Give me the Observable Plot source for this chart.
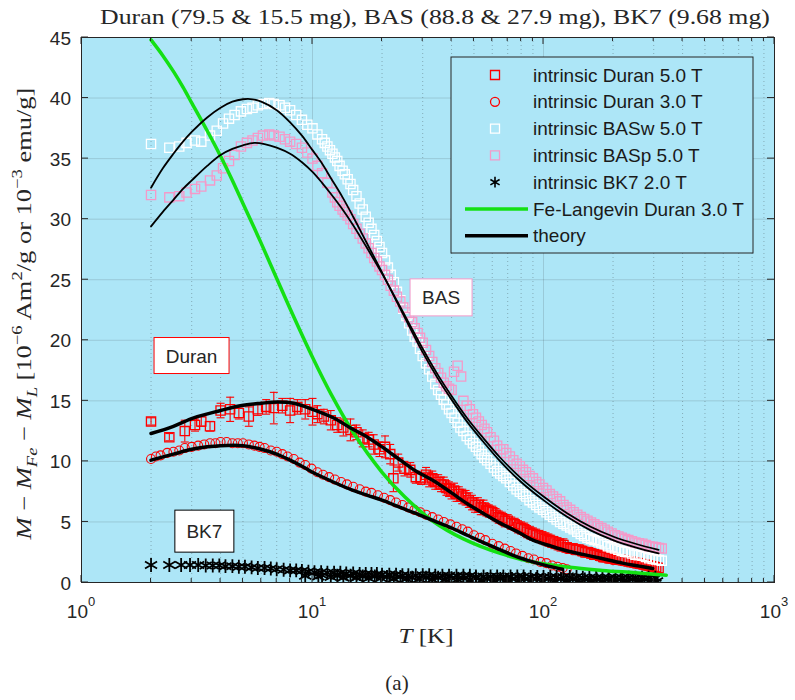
<!DOCTYPE html>
<html><head><meta charset="utf-8">
<script src="https://cdn.jsdelivr.net/npm/d3@7"></script>
<script src="https://cdn.jsdelivr.net/npm/@observablehq/plot@0.6"></script>
<style>body{margin:0;background:#fff}#chart{position:relative;width:795px;height:700px}</style>
</head><body><div id="chart"></div>
<script>
// ---------------- data (T [K], M, error) ----------------
const duran5 = [[2.0,13.3,0.3],[2.4,12.0,0.3],[2.8,12.5,0.9],[3.1,13.0,0.5],[3.3,13.3,0.4],[3.6,12.9,0.4],[4.0,14.2,0.6],[4.4,14.3,1.0],[4.8,14.0,0.5],[5.3,13.7,0.8],[5.8,14.3,0.5],[6.3,14.5,0.6],[6.8,14.4,1.3],[7.4,14.6,0.6],[8.0,14.2,1.0],[8.6,14.5,0.6],[9.3,14.3,0.8],[10.0,14.1,1.1],
[10.5,13.9,0.7],[11.2,13.7,0.6],[12.0,13.4,0.8],[12.8,13.0,0.6],[13.6,12.8,0.7],[14.6,12.6,0.9],[15.5,12.4,0.6],[16.5,11.9,0.7],[17.5,11.8,0.6],[18.4,11.4,0.8],[19.5,11.0,0.6],[20.6,11.2,0.9],[21.7,10.6,0.8],[22.4,8.6,1.1],[23.5,9.9,0.7],[25.0,9.4,0.6],[26.5,9.3,0.6],[28.0,8.7,0.5],[29.5,8.6,0.5],
[31,8.9,0.6],[33,8.6,0.6],[35,8.3,0.6],[37,8.1,0.6],[39,7.7,0.6],[41,7.6,0.6],[43,7.3,0.6],[46,7.0,0.6],[49,6.6,0.6],[52,6.4,0.6],[55,6.2,0.6],[58,5.9,0.5],[62,5.6,0.5],[66,5.3,0.5],[70,5.1,0.5],[75,4.8,0.5],[80,4.5,0.5],[85,4.2,0.5],[90,4.0,0.5],[96,3.8,0.5],[102,3.6,0.5],[108,3.4,0.5],[115,3.2,0.5],[122,3.1,0.5],[130,2.8,0.4],[138,2.7,0.4],[147,2.6,0.4],[156,2.5,0.4],[166,2.3,0.4],[176,2.2,0.4],[187,2.1,0.4],[199,2.0,0.4],[212,1.9,0.4],[225,1.8,0.4],[240,1.7,0.4],[255,1.6,0.4],[270,1.5,0.4],[285,1.4,0.4],[300,1.3,0.4],[315,1.2,0.4],
[32,8.5,0.6],[34,8.3,0.6],[36,8.1,0.6],[38,7.8,0.6],[40,7.5,0.6],[42,7.3,0.6],[44.5,7.1,0.6],[47.5,6.8,0.6],[50.5,6.4,0.6],[53.5,6.2,0.6],[56.5,6.0,0.5],[60,5.8,0.5],[64,5.4,0.5],[68,5.1,0.5],[72.5,4.9,0.5],[77.5,4.6,0.5],[82.5,4.4,0.5],[87.5,4.1,0.5],[93,3.9,0.5],[99,3.7,0.5],[105,3.5,0.5],[111.5,3.3,0.5],[118.5,3.1,0.5],[126,2.9,0.4],[134,2.8,0.4],[142.5,2.7,0.4],[151.5,2.5,0.4],[161,2.4,0.4],[171,2.3,0.4],[181.5,2.1,0.4],[193,2.0,0.4],[205.5,1.9,0.4],[218.5,1.85,0.4],[232.5,1.75,0.4],[247.5,1.65,0.4],[262.5,1.55,0.4],[277.5,1.45,0.4],[292.5,1.35,0.4],[307.5,1.25,0.4]];

const duran3 = [[2.0,10.2],[2.1,10.4],[2.2,10.5],[2.35,10.7],[2.5,10.8],[2.65,10.9],[2.8,11.1],[3.0,11.2],[3.2,11.3],[3.4,11.4],[3.6,11.5],[3.8,11.5],[4.0,11.6],[4.25,11.6],[4.5,11.5],[4.75,11.5],[5.0,11.5],[5.3,11.4],[5.6,11.3],[5.9,11.2],[6.2,11.1],[6.6,10.9],[7.0,10.8],[7.4,10.6],[7.8,10.4],[8.3,10.2],[8.8,9.9],[9.3,9.7],[9.9,9.4],[10.5,9.1],[11.1,8.9],[11.8,8.7],[12.5,8.5],[13.3,8.3],[14.1,8.1],[15,7.9],[16,7.7],[17,7.5],[18,7.4],[19.2,7.2],[20.4,7.0],[21.7,6.8],[23,6.6],[24.5,6.4],[26,6.2],[27.6,6.0],[29.3,5.8],[31,5.6],[33,5.4],[35,5.2],[37,5.0],[39.5,4.8],[42,4.6],[44.5,4.4],[47,4.2],[50,3.9],[53,3.7],[56,3.5],[60,3.2],[64,3.0],[68,2.8],[72,2.6],[76,2.4],[81,2.2],[86,2.0],[91,1.9],[97,1.7],[103,1.6],[109,1.4],[115,1.3],[121,1.2],[126,1.1]];

const basw = [[2.0,36.2],[2.4,35.9],[2.65,36.0],[2.85,36.3],[3.1,36.5],[3.3,36.4],[3.6,36.9],[3.85,37.3],[4.1,37.9],[4.35,38.3],[4.6,38.6],[4.9,38.9],[5.2,39.1],[5.5,39.2],[5.8,39.4],[6.1,39.5],[6.5,39.6],[6.8,39.5],[7.2,39.4],[7.6,39.2],[8.0,39.0],[8.5,38.6],[9.0,38.2],[9.5,37.8],[10.0,37.5],[10.5,37.0],[11.0,36.6],[11.6,36.0],[12.2,35.4],[12.8,34.8],[13.5,34.0],[14.2,33.3],[15.0,32.4],[16.0,31.3],[17.0,30.2],[18.0,29.2],[19.0,28.2],[20.0,27.2],[21.2,26.0],[22.5,24.8],[24.0,23.3],[25.5,22.0],[27.0,20.8],[28.5,19.9],[30,18.7],[32,17.6],[34,16.4],[36,15.5],[38,14.7],[40,14.0],[42.5,13.2],[45,12.5],[48,11.8],[51,11.2],[54,10.6],[57,10.1],[61,9.5],[65,9.0],[69,8.6],[74,8.0],[79,7.5],[84,7.1],[90,6.6],[96,6.2],[103,5.8],[110,5.4],[118,5.0],[126,4.7],[135,4.4],[145,4.0],[155,3.7],[166,3.5],[178,3.3],[190,3.0],[204,2.8],[218,2.6],[233,2.5],[250,2.3],[268,2.2],[287,2.0],[307,1.9],[325,1.8],
[11.3,36.3],[11.9,35.7],[12.5,35.1],[13.1,34.4],[13.8,33.7],[14.6,32.9],[15.5,31.9],[16.5,30.8],[17.5,29.7],[18.5,28.7],[19.5,27.7],[20.6,26.6],[21.8,25.4],[23.2,24.0],[24.7,22.6],[26.2,21.4],[27.7,20.3],
[29.2,19.3],[31,18.1],[33,17.0],[35,15.9],[37,15.1],[39,14.3],[41.2,13.6],[43.7,12.8],[46.5,12.1],[49.5,11.5],[52.5,10.9],[55.5,10.3],[59,9.8],[63,9.2],[67,8.8],[71.5,8.3],[76.5,7.7],[81.5,7.3],[87,6.8],[93,6.4],[99.5,6.0],[106.5,5.6],[114,5.2],[122,4.85],[130.5,4.55],[140,4.2],[150,3.85],[160.5,3.6],[172,3.4],[184,3.15],[197,2.9],[211,2.7],[225.5,2.55],[241.5,2.4],[259,2.25],[277.5,2.1],[297,1.95],[316,1.85]];

const basp = [[2.0,32.0],[2.4,31.8],[2.65,31.9],[2.85,32.2],[3.1,32.5],[3.3,32.7],[3.6,33.2],[3.85,33.6],[4.1,34.2],[4.35,34.8],[4.6,35.3],[4.9,36.0],[5.2,36.3],[5.5,36.5],[5.8,36.7],[6.1,36.9],[6.5,37.0],[6.8,36.9],[7.2,36.8],[7.6,36.6],[8.0,36.4],[8.5,36.2],[9.0,35.9],[9.5,35.5],[10.0,35.0],[10.5,34.4],[11.0,33.8],[11.6,33.0],[12.2,32.2],[12.8,31.4],[13.5,30.8],[14.2,30.3],[15.0,29.6],[16.0,28.8],[17.0,28.0],[18.0,27.2],[19.0,26.5],[20.0,25.8],[21.2,25.0],[22.5,24.1],[24.0,23.2],[25.5,22.3],[27.0,21.5],[28.5,20.6],[30,19.8],[32,18.7],[34,17.7],[36,16.9],[38,16.2],[40,15.9],[41,17.4],[42.5,17.9],[44,17.0],[45,15.0],[48,14.3],[51,13.6],[54,13.0],[57,12.4],[61,11.7],[65,11.0],[69,10.7],[74,10.1],[79,9.6],[84,9.1],[90,8.6],[96,8.1],[103,7.6],[110,7.1],[118,6.7],[126,6.2],[135,5.8],[145,5.4],[155,5.1],[166,4.8],[178,4.5],[190,4.2],[204,3.9],[218,3.7],[233,3.5],[250,3.3],[268,3.2],[287,3.0],[307,2.9],[325,2.8],
[12.5,31.8],[13.1,31.1],[13.8,30.6],[14.6,30.0],[15.5,29.2],[16.5,28.4],[17.5,27.6],[18.5,26.8],[19.5,26.1],[20.6,25.4],[21.8,24.5],[23.2,23.6],[24.7,22.7],[26.2,21.9],[27.7,21.0],
[29.2,20.2],[31,19.2],[33,18.2],[35,17.3],[37,16.5],[39,16.0],[46.5,14.6],[49.5,13.9],[52.5,13.3],[55.5,12.7],[59,12.0],[63,11.3],[67,11.0],[71.5,10.4],[76.5,9.8],[81.5,9.3],[87,8.8],[93,8.3],[99.5,7.8],[106.5,7.3],[114,6.9],[122,6.4],[130.5,6.0],[140,5.6],[150,5.25],[160.5,4.95],[172,4.65],[184,4.35],[197,4.05],[211,3.8],[225.5,3.6],[241.5,3.4],[259,3.25],[277.5,3.1],[297,2.95],[316,2.85]];

const bk7 = [[2.0,1.45],[2.4,1.45],[2.7,1.45],[2.95,1.45],[3.2,1.45],[3.45,1.4],[3.7,1.4],[3.95,1.4],[4.2,1.35],[4.5,1.35],[4.8,1.3],[5.1,1.3],[5.45,1.25],[5.8,1.2],[6.2,1.2],[6.6,1.15],[7.0,1.1],[7.5,1.05],[8.0,1.0],[8.5,1.0],[9.0,0.95],[9.6,0.9],[10.2,0.85],[10.9,0.85],[11.6,0.8],[12.4,0.8],[13.2,0.8],[14,0.75],[15,0.75],[16,0.7],[17,0.7],[18,0.7],[19,0.7],[20,0.65],[21.5,0.65],[23,0.65],[24.5,0.6],[26,0.6],[28,0.6],[30,0.6],[32,0.6],[34,0.55],[36.5,0.55],[39,0.55],[42,0.55],[45,0.55],[48,0.55],[51,0.5],[55,0.5],[59,0.5],[63,0.5],[67,0.5],[72,0.5],[77,0.5],[82,0.5],[88,0.45],[94,0.45],[100,0.45],[107,0.45],[114,0.45],[122,0.45],[130,0.45],[139,0.45],[148,0.4],[158,0.4],[169,0.4],[180,0.4],[192,0.4],[205,0.4],[219,0.4],[234,0.4],[250,0.4],[267,0.4],[285,0.4],[305,0.4],
[9.3,0.55],[10.6,0.5],[12,0.45],[13.6,0.4],[15.5,0.4],[17.5,0.35],[19.8,0.35],[22.5,0.3],[25.5,0.3],[29,0.3],[33,0.25],[37.5,0.25],[42.5,0.25],[48,0.2],[54,0.2],[61,0.2],[69,0.2],[78,0.15],[88,0.15],[99,0.15],[112,0.15],[126,0.15],[142,0.15],[160,0.1],[180,0.1],[203,0.1],[229,0.1],[258,0.1],[290,0.1],[310,0.1],
[11,0.6],[12.8,0.55],[14.6,0.55],[16.5,0.5],[18.6,0.5],[21,0.45],[24,0.45],[27,0.4],[31,0.4],[35,0.4],[40,0.35],[45,0.35],[51,0.35],[57,0.3],[65,0.3],[73,0.3],[83,0.3],[93,0.3],[105,0.3],[119,0.3],[134,0.25],[151,0.25],[170,0.25],[191,0.25],[216,0.25],[243,0.25],[274,0.25],[300,0.25]];

const langevin = [[2.0,44.8],[2.25,43.5],[2.5,42.2],[2.75,40.9],[3,39.6],[3.5,37.3],[4,35.2],[4.5,33.2],[5,31.3],[6,28.0],[7,25.1],[8,22.6],[10,18.6],[12,15.6],[15,12.4],[20,9.1],[25,7.1],[33,5.1],[45,3.6],[65,2.4],[90,1.7],[130,1.25],[180,1.0],[250,0.8],[340,0.6]];

const theoryDuran5 = [[2,12.3],[2.5,12.9],[3.06,13.6],[4,14.2],[4.87,14.6],[6,14.8],[7,14.9],[8.3,14.8],[10,14.3],[12.3,13.6],[14.5,12.8],[17.3,12.0],[20,11.2],[24,10.1],[28,9.2],[33.4,8.4],[40,7.4],[46.8,6.5],[55,5.7],[65,4.9],[77,4.2],[90,3.5],[108,3.0],[127,2.6],[150,2.3],[177,2.0],[220,1.6],[260,1.35],[297,1.15]];
const theoryDuran3 = [[2,10.1],[2.5,10.6],[3,11.0],[3.5,11.2],[4,11.3],[5,11.3],[6,11.0],[7,10.6],[8,10.1],[9,9.6],[10,9.1],[12.3,8.3],[15,7.6],[17.3,7.2],[20,6.8],[24,6.2],[28,5.7],[33.4,5.1],[40,4.5],[46.8,3.9],[55,3.3],[65,2.7],[75,2.2],[90,1.7],[105,1.35],[121,1.1]];
const theoryBASw = [[2,32.6],[2.25,34.2],[2.5,35.4],[2.75,36.4],[3,37.2],[3.5,38.4],[4,39.2],[4.5,39.7],[5,39.9],[5.5,39.9],[6,39.7],[7,39.0],[8,38.0],[9,36.9],[10,35.7],[11,34.6],[12,33.4],[13.5,31.8],[15,30.2],[17,28.2],[20,25.6],[23,23.3],[26,21.3],[30,19.0],[35,16.8],[40,15.1],[47,13.2],[55,11.6],[65,10.0],[80,8.3],[100,6.8],[127,5.4],[160,4.3],[200,3.5],[250,2.9],[315,2.4]];
const theoryBASp = [[2,29.4],[2.25,30.6],[2.5,31.6],[2.75,32.5],[3,33.2],[3.5,34.4],[4,35.3],[4.5,35.8],[5,36.1],[5.6,36.3],[6.2,36.2],[7,35.9],[8,35.4],[9,34.7],[10,33.9],[11,33.0],[12,32.1],[13.5,30.8],[15,29.5],[17,27.8],[20,25.5],[23,23.4],[26,21.5],[30,19.3],[35,17.1],[40,15.4],[47,13.5],[55,11.9],[65,10.3],[80,8.6],[100,7.1],[127,5.7],[160,4.6],[200,3.8],[250,3.2],[315,2.7]];

const xMajorTicks = [1, 10, 100, 1000];
const xTickExponents = ["0", "1", "2", "3"];
const xMinorTicks = [2,3,4,5,6,7,8,9,20,30,40,50,60,70,80,90,200,300,400,500,600,700,800,900];
const yTicks = [0,5,10,15,20,25,30,35,40,45];
const legendLabels = ["intrinsic Duran 5.0 T","intrinsic Duran 3.0 T","intrinsic BASw 5.0 T","intrinsic BASp 5.0 T","intrinsic BK7 2.0 T","Fe-Langevin Duran 3.0 T","theory"];
const notes = [["BAS",36.2,23.5],["Duran",3.01,18.7],["BK7",3.42,4.2]];
const titleText = "Duran (79.5 & 15.5 mg), BAS (88.8 & 27.9 mg), BK7 (9.68 mg)";

// ---------------- styles ----------------
const red = "#ff0000", pink = "#f49ac9", green = "#14e014", bg = "#ade6f7", axc = "#262626";
const SANS = "'Liberation Sans', Arial, Helvetica, sans-serif";
const SERIF = "'Liberation Serif', 'Times New Roman', serif";
const capSymbol = {draw(ctx){ ctx.moveTo(-4,0); ctx.lineTo(4,0); }};
const sqR = 5.2, ciR = 4.5, asR = 6.6;
const X = d => d[0], Yv = d => d[1];

const plot = Plot.plot({
  width: 795, height: 700,
  marginLeft: 81, marginRight: 21, marginTop: 37, marginBottom: 118,
  x: {type: "log", domain: [1, 1000], axis: null},
  y: {domain: [0, 45], axis: null},
  style: {background: "white", overflow: "visible"},
  marks: [
    Plot.frame({fill: bg, stroke: null}),
    Plot.ruleX(xMinorTicks, {stroke: axc, strokeOpacity: 0.3, strokeDasharray: "1,3"}),
    Plot.ruleX(xMajorTicks.slice(1, 3), {stroke: axc, strokeOpacity: 0.15}),
    Plot.ruleY(yTicks.slice(1, 9), {stroke: axc, strokeOpacity: 0.15}),
    Plot.ruleX(duran5, {x: X, y1: d => d[1] - d[2], y2: d => d[1] + d[2], stroke: red, strokeWidth: 1.1, clip: true}),
    Plot.dot(duran5, {x: X, y: d => d[1] - d[2], symbol: capSymbol, r: 4, stroke: red, fill: "none", strokeWidth: 1.1, clip: true}),
    Plot.dot(duran5, {x: X, y: d => d[1] + d[2], symbol: capSymbol, r: 4, stroke: red, fill: "none", strokeWidth: 1.1, clip: true}),
    Plot.dot(duran5, {x: X, y: Yv, symbol: "square", r: sqR, stroke: red, fill: "none", strokeWidth: 1.3, clip: true}),
    Plot.dot(duran3, {x: X, y: Yv, symbol: "circle", r: ciR, stroke: red, fill: "none", strokeWidth: 1.1, clip: true}),
    Plot.dot(basw, {x: X, y: Yv, symbol: "square", r: sqR, stroke: "white", fill: "none", strokeWidth: 1.3, clip: true}),
    Plot.dot(basp, {x: X, y: Yv, symbol: "square", r: sqR, stroke: pink, fill: "none", strokeWidth: 1.3, clip: true}),
    Plot.dot(bk7, {x: X, y: Yv, symbol: "asterisk", r: asR, stroke: "black", strokeWidth: 1.8, clip: true}),
    Plot.line(langevin, {x: X, y: Yv, stroke: green, strokeWidth: 3.5, curve: "catmull-rom", clip: true}),
    Plot.line(theoryDuran5, {x: X, y: Yv, stroke: "black", strokeWidth: 3.5, curve: "catmull-rom", clip: true}),
    Plot.line(theoryDuran3, {x: X, y: Yv, stroke: "black", strokeWidth: 3.5, curve: "catmull-rom", clip: true}),
    Plot.line(theoryBASw, {x: X, y: Yv, stroke: "black", strokeWidth: 1.8, curve: "catmull-rom", clip: true}),
    Plot.line(theoryBASp, {x: X, y: Yv, stroke: "black", strokeWidth: 1.8, curve: "catmull-rom", clip: true}),
    Plot.frame({stroke: axc, strokeWidth: 1})
  ]
});
document.getElementById("chart").append(plot);

const sx = plot.scale("x"), sy = plot.scale("y");
const px = v => sx.apply(v), py = v => sy.apply(v);
const [L, R] = sx.range, [B, T] = sy.range;
const svg = d3.select(plot);
const g = svg.append("g").attr("text-anchor", "start");

// ticks inside on all sides
const tk = (x1, y1, x2, y2) => g.append("line").attr("x1", x1).attr("y1", y1).attr("x2", x2).attr("y2", y2).attr("stroke", axc).attr("stroke-width", 1);
xMajorTicks.forEach(v => { const x = px(v); tk(x, B, x, B - 7); tk(x, T, x, T + 7); });
xMinorTicks.forEach(v => { const x = px(v); tk(x, B, x, B - 4); tk(x, T, x, T + 4); });
yTicks.forEach(v => { const y = py(v); tk(L, y, L + 7, y); tk(R, y, R - 7, y); });

// tick labels
yTicks.forEach(v => g.append("text").attr("x", L - 10).attr("y", py(v) + 7.5).attr("text-anchor", "end")
  .attr("font-family", SANS).attr("font-size", 19).attr("fill", axc).text(v));
xMajorTicks.forEach((v, i) => {
  const t = g.append("text").attr("x", px(v)).attr("y", 618).attr("text-anchor", "middle")
    .attr("font-family", SANS).attr("font-size", 19).attr("fill", axc);
  t.append("tspan").text("10");
  t.append("tspan").attr("dy", -12).attr("font-size", 13).text(xTickExponents[i]);
});

// rich text helper
function rich(sel, parts, base) {
  let shift = 0;
  parts.forEach(p => {
    const ts = sel.append("tspan").text(p.t);
    const target = p.sub ? base * 0.3 : p.sup ? -base * 0.42 : 0;
    if (target - shift !== 0) ts.attr("dy", target - shift);
    shift = target;
    if (p.sub || p.sup) ts.attr("font-size", base * 0.7);
    if (p.i) ts.attr("font-style", "italic");
  });
}
function stretch(node, target, tf) {
  const w = node.getComputedTextLength();
  const k = Math.max(0.8, Math.min(1.3, target / w));
  d3.select(node).attr("transform", tf + ` scale(${k},1)`);
}

// title
const title = g.append("text").attr("x", 0).attr("y", 0).attr("text-anchor", "middle")
  .attr("font-family", SERIF).attr("font-size", 21).attr("fill", axc).text(titleText);
stretch(title.node(), 670, "translate(435,24)");

// y label
const ylab = g.append("text").attr("x", 0).attr("y", 0).attr("text-anchor", "middle")
  .attr("font-family", SERIF).attr("font-size", 21).attr("fill", axc);
rich(ylab, [{t:"M",i:1},{t:" − "},{t:"M",i:1},{t:"Fe",i:1,sub:1},{t:" − "},{t:"M",i:1},{t:"L",i:1,sub:1},{t:" [10"},{t:"−6",sup:1},{t:" Am"},{t:"2",sup:1},{t:"/g or 10"},{t:"−3",sup:1},{t:" emu/g]"}], 21);
stretch(ylab.node(), 452, `translate(31,${(T + B) / 2 + 4}) rotate(-90)`);

// x label
const xlab = g.append("text").attr("x", 0).attr("y", 0).attr("text-anchor", "middle")
  .attr("font-family", SERIF).attr("font-size", 21).attr("fill", axc);
rich(xlab, [{t:"T",i:1},{t:" [K]"}], 21);
stretch(xlab.node(), 55, "translate(426,643)");

// caption
g.append("text").attr("x", 397).attr("y", 690).attr("text-anchor", "middle")
  .attr("font-family", SERIF).attr("font-size", 21).attr("fill", axc).text("(a)");

// annotation boxes
const noteStyle = [{w: 62, h: 37, c: pink}, {w: 75, h: 36, c: red}, {w: 59, h: 42, c: "black"}];
notes.forEach((n, i) => {
  const cx = px(n[1]), cy = py(n[2]), s = noteStyle[i];
  g.append("rect").attr("x", cx - s.w / 2).attr("y", cy - s.h / 2).attr("width", s.w).attr("height", s.h)
    .attr("fill", "white").attr("stroke", s.c).attr("stroke-width", 1);
  g.append("text").attr("x", cx).attr("y", cy + 7).attr("text-anchor", "middle")
    .attr("font-family", SANS).attr("font-size", 19).attr("fill", axc).text(n[0]);
});

// legend
const lg = g.append("g");
lg.append("rect").attr("x", 451).attr("y", 57).attr("width", 302).attr("height", 196)
  .attr("fill", bg).attr("stroke", axc).attr("stroke-width", 1);
const kinds = [
  {type: d3.symbolSquare, size: 81, c: red, sw: 1.3},
  {type: d3.symbolCircle, size: Math.PI * ciR * ciR, c: red, sw: 1.3},
  {type: d3.symbolSquare, size: 81, c: "white", sw: 1.3},
  {type: d3.symbolSquare, size: 81, c: pink, sw: 1.3},
  {type: d3.symbolAsterisk, size: 80, c: "black", sw: 1.6},
  {line: true, c: green, sw: 3.5},
  {line: true, c: "black", sw: 3.5}
];
legendLabels.forEach((lab, i) => {
  const y = 75 + i * 26.8, k = kinds[i];
  if (k.line) {
    lg.append("line").attr("x1", 465).attr("x2", 528).attr("y1", y).attr("y2", y).attr("stroke", k.c).attr("stroke-width", k.sw);
  } else {
    lg.append("path").attr("d", d3.symbol(k.type, k.size)()).attr("transform", `translate(495,${y})`)
      .attr("fill", "none").attr("stroke", k.c).attr("stroke-width", k.sw);
  }
  lg.append("text").attr("x", 533).attr("y", y + 6.5).attr("text-anchor", "start").attr("font-family", SANS).attr("font-size", 19)
    .attr("fill", "#1a1a1a").text(lab);
});
</script>
</body></html>
